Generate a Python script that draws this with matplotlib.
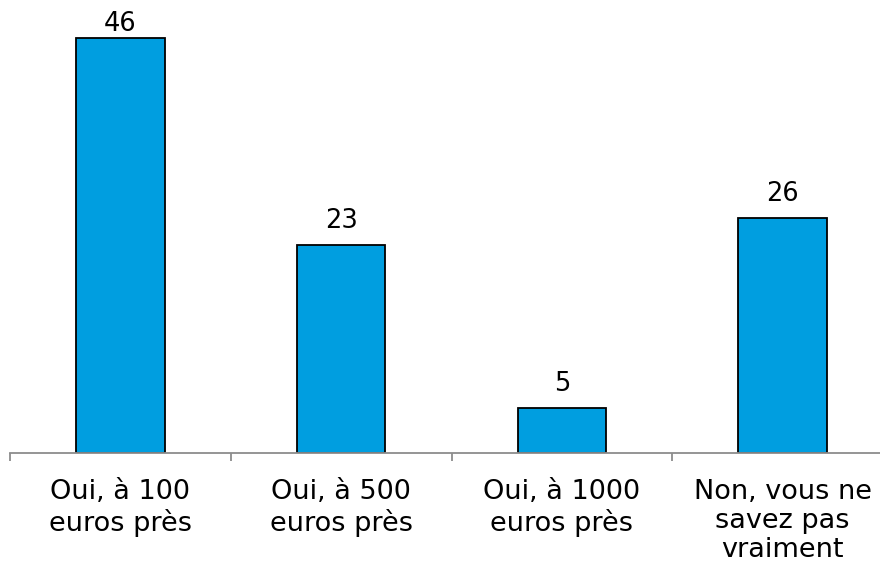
import matplotlib
matplotlib.use("Agg")
import matplotlib.pyplot as plt

categories = ["Oui, à 100\neuros près", "Oui, à 500\neuros près",
              "Oui, à 1000\neuros près", "Non, vous ne\nsavez pas\nvraiment"]
values = [46, 23, 5, 26]

plt.rcParams['font.family'] = ['DejaVu Sans']

fig = plt.figure(figsize=(8.8, 5.64), dpi=100)
W, H = 880, 564
AX_H = 453
ax = fig.add_axes([10 / W, (H - AX_H) / H, 883 / W, AX_H / H])

x = list(range(len(categories)))
ax.bar(x, values, width=0.4, color="#009EE0", edgecolor="black", linewidth=1.3, zorder=2)

YMAX = 50.2
ax.set_xlim(-0.5, len(categories) - 0.5)
ax.set_ylim(0, YMAX)

px = YMAX / AX_H  # data units per pixel
for xi, v in zip(x, values):
    yb = min(v + 17 * px, YMAX - 31 * px)
    ax.text(xi, yb, str(v), ha="center", va="baseline", fontsize=18.5, color="black")

for s in ["top", "left", "right"]:
    ax.spines[s].set_visible(False)
ax.spines["bottom"].set_color("#8c8c8c")
ax.spines["bottom"].set_linewidth(1.3)
ax.spines["bottom"].set_zorder(3)
ax.set_yticks([])

ax.set_xticks([i - 0.5 for i in range(len(categories) + 1)], minor=False)
ax.set_xticklabels([""] * (len(categories) + 1))
ax.tick_params(axis="x", which="major", length=6, width=1.3, color="#8c8c8c", direction="out")
ax.set_xticks(x, minor=True)
ax.set_xticklabels(categories, minor=True, fontsize=19.5, linespacing=1.15)
ax.tick_params(axis="x", which="minor", length=0, pad=19)

fig.savefig("out.png", dpi=100)
